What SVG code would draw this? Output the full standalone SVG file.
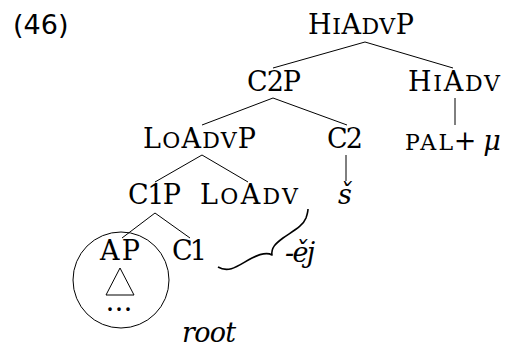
<svg xmlns="http://www.w3.org/2000/svg" width="509" height="347" viewBox="0 0 509 347">
<style>
.n{font-family:"DejaVu Serif","Liberation Serif",serif;font-size:27px;fill:#000;}
.sc{font-variant:small-caps;font-size:32px;}
.it{font-family:"DejaVu Serif","Liberation Serif",serif;font-size:27px;font-style:italic;fill:#000;}
.num{font-family:"DejaVu Sans","Noto Sans",sans-serif;font-size:27px;fill:#000;}
.e{stroke:#000;stroke-width:1;fill:none;}
</style>
<rect width="509" height="347" fill="#fff"/>
<text class="num" x="13" y="34">(46)</text>
<g id="connectors">
<line class="e" x1="365" y1="42" x2="273" y2="68"/>
<line class="e" x1="365" y1="42" x2="453" y2="68"/>
<line class="e" x1="273" y1="98" x2="202" y2="125"/>
<line class="e" x1="273" y1="98" x2="347" y2="125"/>
<line class="e" x1="455" y1="98" x2="455" y2="125"/>
<line class="e" x1="202" y1="155" x2="155" y2="182"/>
<line class="e" x1="202" y1="155" x2="248" y2="182"/>
<line class="e" x1="346" y1="155" x2="346" y2="181"/>
<line class="e" x1="155" y1="213" x2="122" y2="238"/>
<line class="e" x1="155" y1="213" x2="190" y2="238"/>
</g>
<g id="HiAdvP"><text class="n" x="308" y="34" textLength="106">H<tspan class="sc">i</tspan>A<tspan class="sc">dv</tspan>P</text></g>
<g id="C2P"><text class="n" x="247" y="91" textLength="54">C2P</text></g>
<g id="HiAdv"><text class="n" x="408" y="91" textLength="92">H<tspan class="sc">i</tspan>A<tspan class="sc">dv</tspan></text></g>
<g id="LoAdvP"><text class="n" x="143" y="148" textLength="113">L<tspan class="sc">o</tspan>A<tspan class="sc">dv</tspan>P</text></g>
<g id="C2"><text class="n" x="327" y="148" textLength="36">C2</text></g>
<g id="PAL"><text class="n" x="405" y="150" textLength="48"><tspan class="sc">pal</tspan></text><text class="n" x="465" y="150" text-anchor="middle">+</text><text class="it" x="492" y="150" text-anchor="middle">μ</text></g>
<g id="C1P"><text class="n" x="128" y="204" textLength="53">C1P</text></g>
<g id="LoAdv"><text class="n" x="200" y="204" textLength="98">L<tspan class="sc">o</tspan>A<tspan class="sc">dv</tspan></text></g>
<g id="s"><text class="it" x="345" y="204" text-anchor="middle">š</text></g>
<g id="AP"><text class="n" x="100" y="260" textLength="40">AP</text>
<circle class="e" cx="121" cy="280" r="48"/>
<polygon class="e" points="120,268 106,295 134,295"/>
<text class="n" x="119" y="311" text-anchor="middle">…</text></g>
<g id="C1"><text class="n" x="172" y="260" textLength="35">C1</text></g>
<g id="brace"><path d="M218,267 C230,274 240,264 252,258 C260,254 267,252 272,255 C271,248 275,244 283,238 C293,231 303,226 306,218 C307,215 308,212 308,209" fill="none" stroke="#000" stroke-width="1.6" stroke-linejoin="round"/>
<text class="it" x="285" y="262" textLength="30">-ěj</text></g>
<g id="root"><text class="it" x="182" y="342" textLength="54">root</text></g>
</svg>
